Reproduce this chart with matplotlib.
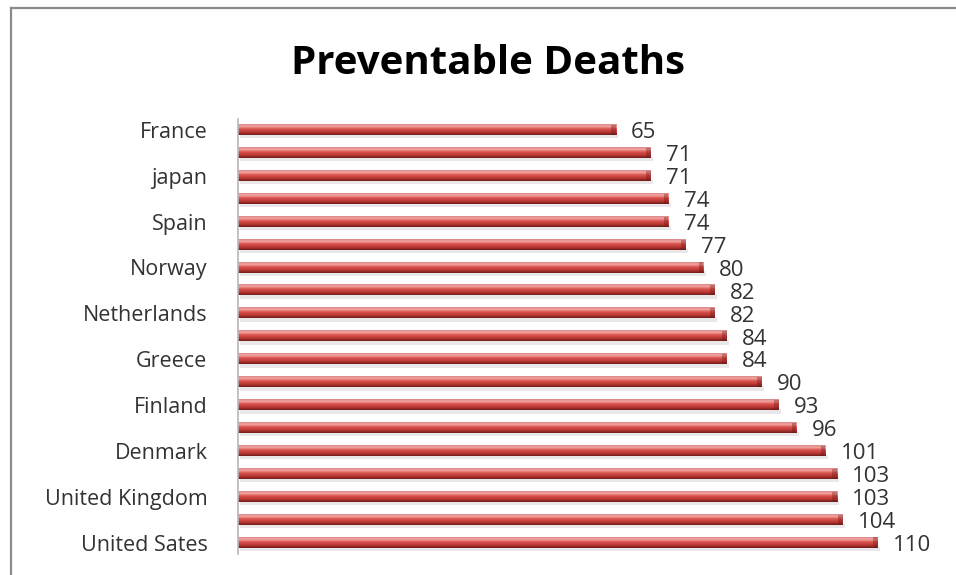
import numpy as np
import matplotlib
matplotlib.use("Agg")
import matplotlib.pyplot as plt
from matplotlib.colors import LinearSegmentedColormap
from matplotlib.lines import Line2D

# Preventable deaths per 100,000 (top to bottom); only every other country is labelled
countries = ["France", "", "japan", "", "Spain", "", "Norway", "", "Netherlands", "",
             "Greece", "", "Finland", "", "Denmark", "", "United Kingdom", "", "United Sates"]
deaths = [65, 71, 71, 74, 74, 77, 80, 82, 82, 84, 84, 90, 93, 96, 101, 103, 103, 104, 110]
title = "Preventable Deaths"

W, H = 956, 575
fig = plt.figure(figsize=(W / 100, H / 100), dpi=100)
fig.patch.set_facecolor("white")

# outer chart frame: only the top and left edges fall inside the image
fx, fy = 10.5 / W, 1 - 7.5 / H
fig.lines.append(Line2D([fx, 1.0], [fy, fy], transform=fig.transFigure,
                        color="#8a8a8a", linewidth=1.6))
fig.lines.append(Line2D([fx, fx], [0.0, fy], transform=fig.transFigure,
                        color="#8a8a8a", linewidth=1.6))

ax = fig.add_axes([238 / W, 1 - 554 / H, 698 / W, (554 - 118.5) / H])

# cylinder-like shading: light top edge, red body, dark bottom
cyl = LinearSegmentedColormap.from_list(
    "cyl", [(0.0, "#d88886"), (0.2, "#f4a6a3"), (0.45, "#d9524e"),
            (0.75, "#b83733"), (1.0, "#6e1d1b")])
grad = np.linspace(0, 1, 64).reshape(-1, 1)

bh = 0.44
ypos = np.arange(len(deaths))
for i, v in zip(ypos, deaths):
    # soft shadow under the bar
    ax.barh(i + bh * 0.62, v, height=bh * 0.45, left=0.4, color="#9a9a9a",
            alpha=0.22, linewidth=0, zorder=1)
    ax.imshow(grad, extent=(0, v, i + bh / 2, i - bh / 2), aspect="auto",
              cmap=cyl, interpolation="bilinear", zorder=2)
    # darker end cap
    ax.barh(i, 0.8, left=v - 0.8, height=bh, color="#6a1614", alpha=0.35,
            linewidth=0, zorder=3)
    ax.text(v + 2.6, i + 0.12, f"{v}", ha="left", va="center",
            fontsize=16, color="#333333", family="Open Sans", zorder=4)

ax.set_xlim(0, 120)
ax.set_ylim(len(deaths) - 0.5, -0.5)
ax.set_yticks(ypos)
ax.set_yticklabels(countries, fontsize=15.5, color="#333333", family="Open Sans")
ax.tick_params(axis="y", length=0, pad=22)
ax.set_xticks([])
for s in ("top", "right", "bottom"):
    ax.spines[s].set_visible(False)
ax.spines["left"].set_color("#b8b8b8")
ax.spines["left"].set_linewidth(1.2)
ax.set_facecolor("none")

fig.text(488 / W, 1 - 63 / H, title, ha="center", va="center",
         fontsize=29, fontweight="bold", family="Open Sans", color="black")

fig.savefig("out.png", dpi=100, facecolor="white")
